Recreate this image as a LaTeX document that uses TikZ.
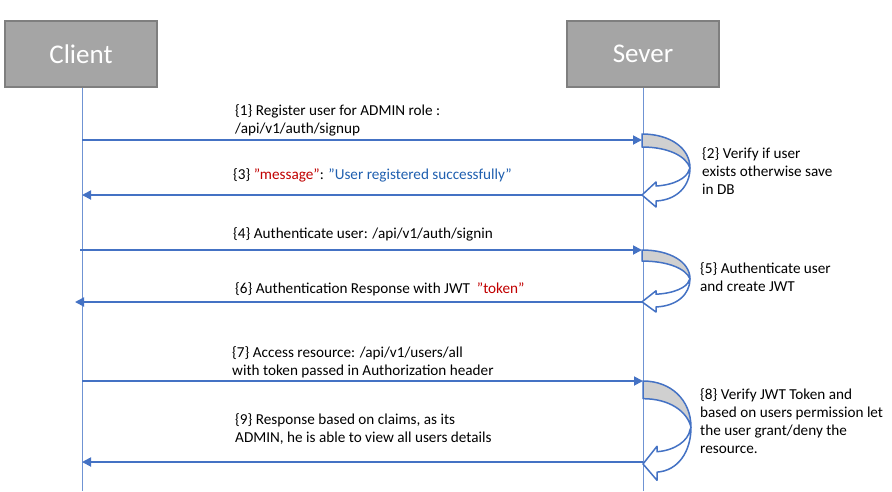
\documentclass[tikz,border=0pt]{standalone}
\usepackage{fontspec}
\setmainfont{Carlito}
\usetikzlibrary{arrows.meta}
\definecolor{lineblue}{HTML}{4472C4}
\definecolor{lifeblue}{HTML}{6F93D3}
\definecolor{headgray}{HTML}{A5A5A5}
\definecolor{headedge}{HTML}{7F7F7F}
\definecolor{keyred}{HTML}{C00000}
\definecolor{valblue}{HTML}{1F5FAF}
\definecolor{bandgray}{HTML}{D0D0D0}
\tikzset{
  actor/.style={draw=headedge, line width=1.5pt, fill=headgray, minimum width=152pt, minimum height=66pt, text=white, font=\fontsize{27}{30}\selectfont},
  lifeline/.style={draw=lifeblue, line width=0.9pt},
  msg/.style={draw=lineblue, line width=1.8pt, -{Triangle[length=9pt,width=9pt]}},
  note/.style={anchor=base west, inner sep=0pt, align=left, font=\fontsize{15.2}{18}\selectfont},
  selfcall/.pic={
    \filldraw[fill=white, draw=lineblue, line width=1.5pt, line join=round]
      (48,34) .. controls (48,52) and (35,66) .. (14,67) -- (14,73) -- (0,61) -- (14,48) -- (14,52)
      .. controls (32,51) and (45,44) .. (47,36) -- cycle;
    \filldraw[fill=bandgray, draw=lineblue, line width=1.5pt, line join=round]
      (0,0) .. controls (28,0) and (48,14) .. (48,34) .. controls (44,22) and (26,13) .. (0,13) -- cycle;
  }
}
\begin{document}
\begin{tikzpicture}[x=1pt, y=-1pt]
\useasboundingbox (0,0) rectangle (892,491);
% actors
\node[actor] (client) at (81,54) {Client};
\node[actor] (server) at (643,54) {Sever};
\coordinate (clientend) at (82,491);
\coordinate (serverend) at (643,491);
\draw[lifeline] (client.south -| clientend) -- (clientend);
\draw[lifeline] (server.south -| serverend) -- (serverend);
% self calls on the server
\pic at (642,134) {selfcall};
\pic[yscale=0.85] at (642,250) {selfcall};
\pic[yscale=1.36] at (643,381) {selfcall};
% message ends
\coordinate (c1) at (82,140);  \coordinate (s1) at (642,140);
\coordinate (c3) at (82,195);  \coordinate (s3) at (642,195);
\coordinate (c4) at (80,250);  \coordinate (s4) at (642,250);
\coordinate (c6) at (75,302);  \coordinate (s6) at (642,302);
\coordinate (c7) at (82,381);  \coordinate (s7) at (643,381);
\coordinate (c9) at (82,462);  \coordinate (s9) at (643,462);
\draw[msg] (c1) -- (s1);
\draw[msg] (s3) -- (c3);
\draw[msg] (c4) -- (s4);
\draw[msg] (s6) -- (c6);
\draw[msg] (c7) -- (s7);
\draw[msg] (s9) -- (c9);
% labels (base = last line)
\node[note] (m1) at (235,133) {\{1\} Register user for ADMIN role :\\/api/v1/auth/signup};
\node[note] (m3) at (233,179) {\{3\} \textcolor{keyred}{"message"}: \textcolor{valblue}{"User registered successfully"}};
\node[note] (m4) at (233,238) {\{4\} Authenticate user: /api/v1/auth/signin};
\node[note] (m6) at (235,293) {\{6\} Authentication Response with JWT\ \ \textcolor{keyred}{"token"}};
\node[note] (m7) at (232,375) {\{7\} Access resource: /api/v1/users/all\\with token passed in Authorization header};
\node[note] (m9) at (235,442) {\{9\} Response based on claims, as its\\ADMIN, he is able to view all users details};
\node[note] (m2) at (702,194) {\{2\} Verify if user\\exists otherwise save\\in DB};
\node[note] (m5) at (700,291) {\{5\} Authenticate user\\and create JWT};
\node[note] (m8) at (700,453) {\{8\} Verify JWT Token and\\based on users permission let\\the user grant/deny the\\resource.};
\end{tikzpicture}
\end{document}
